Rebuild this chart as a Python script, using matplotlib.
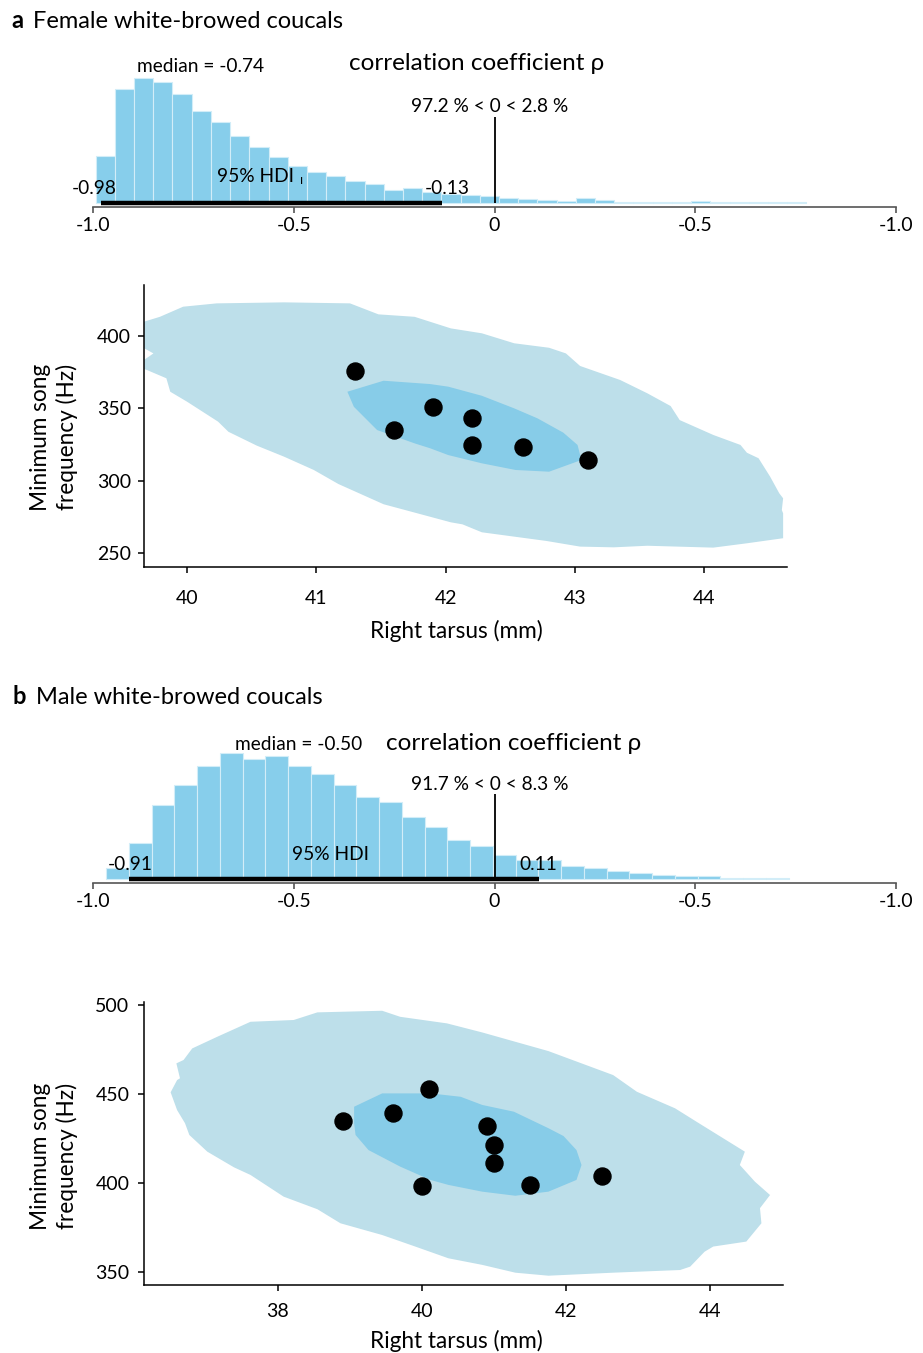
import numpy as np
import matplotlib
matplotlib.use("Agg")
import matplotlib.pyplot as plt

plt.rcParams['font.family'] = ['Lato', 'DejaVu Sans']

W, H = 923, 1353

# ---- posterior of rho, females (bin heights)
hist_a_start = -0.9934
hist_a_width = 0.04784
hist_a_heights = [47, 114, 125, 121, 109, 91.5, 81, 66.5, 56, 46, 37, 31, 27,
                  22, 18.5, 13, 15, 11, 9, 8, 7, 5, 3.8, 2.8, 1.8, 4.2, 2.2,
                  0.8, 0.8, 0.5, 0.5, 1.2, 0.5, 0.3, 0.3, 0.3, 0.2]
hdi_a = [-0.98, -0.13]
median_a = -0.74
pct_a = [97.2, 2.8]

# ---- posterior of rho, males
hist_b_start = -0.9674
hist_b_width = 0.05666
hist_b_heights = [10.2, 35.2, 73.5, 93.5, 112.2, 125.5, 120, 122.5, 112.2,
                  104.8, 93.5, 81.2, 76.5, 61.2, 51.5, 38.8, 32.2, 23.8, 18.5,
                  18.5, 12.5, 10.5, 7.5, 5.2, 3.8, 2.2, 2.2, 0.8, 0.5, 0.3]
hdi_b = [-0.91, 0.11]
median_b = -0.50
pct_b = [91.7, 8.3]

hist_ticks = [-1.0, -0.5, 0, 0.5, 1.0]
hist_ticklabels = ['-1.0', '-0.5', '0', '-0.5', '-1.0']

# ---- females: tarsus vs min song frequency
fem_tarsus = [41.3, 41.9, 41.6, 42.2, 42.2, 42.6, 43.1]
fem_freq = [376, 351, 335, 343, 325, 323, 314]

fem_outer_x = [39.60, 39.79, 39.97, 40.23, 40.75, 41.26, 41.48, 41.76, 42.04,
               42.28, 42.53, 42.80, 42.93, 43.04, 43.35, 43.56, 43.74, 43.81,
               44.07, 44.28, 44.33, 44.42, 44.51, 44.58, 44.61, 44.60, 44.61,
               44.61, 44.33, 44.07, 43.56, 43.30, 43.04, 42.78, 42.28, 42.13,
               42.04, 41.52, 41.17, 40.98, 40.75, 40.54, 40.32, 40.24, 40.00,
               39.87, 39.84, 39.69, 39.60, 39.74, 39.60]
fem_outer_y = [408.1, 413.3, 420.3, 422.6, 423.3, 422.6, 415.0, 413.3, 405.3,
               401.9, 395.0, 391.9, 388.0, 379.3, 369.6, 360.4, 351.6, 341.9,
               331.6, 324.7, 319.3, 315.5, 302.7, 291.3, 287.8, 279.7, 277.4,
               260.2, 256.7, 253.7, 255.0, 253.9, 254.4, 258.3, 264.3, 269.8,
               271.2, 283.7, 297.7, 307.4, 316.6, 324.2, 333.8, 340.8, 354.6,
               361.5, 370.8, 376.5, 379.3, 388.0, 394.9]
fem_inner_x = [41.24, 41.52, 41.88, 42.02, 42.28, 42.53, 42.71, 42.91, 43.02,
               43.05, 42.80, 42.54, 42.28, 42.02, 41.88, 41.76, 41.47, 41.29]
fem_inner_y = [361.5, 369.1, 366.8, 365.0, 358.7, 350.0, 343.1, 333.2, 324.7,
               314.3, 306.2, 307.4, 312.0, 317.7, 322.4, 325.8, 335.0, 351.1]

# ---- males
male_tarsus = [38.9, 39.6, 40.1, 40.0, 40.9, 41.0, 41.0, 41.5, 42.5]
male_freq = [435, 439, 453, 398, 432, 421, 411, 399, 404]

male_outer_x = [36.59, 36.69, 36.81, 37.16, 37.62, 38.22, 38.55, 39.45, 39.70,
                40.35, 40.84, 41.76, 42.66, 42.99, 43.52, 43.84, 44.49, 44.42,
                44.63, 44.84, 44.70, 44.72, 44.51, 44.05, 43.93, 43.73, 43.59,
                42.66, 41.76, 41.30, 40.84, 40.37, 39.91, 39.45, 38.87, 38.55,
                38.08, 37.62, 37.39, 37.02, 36.77, 36.71, 36.60, 36.51, 36.60,
                36.64]
male_outer_y = [467.2, 469.1, 475.6, 482.2, 490.6, 491.6, 495.9, 496.8, 493.4,
                489.7, 484.6, 474.1, 460.6, 451.2, 441.9, 433.8, 417.5, 410.0,
                400.6, 393.1, 385.7, 377.2, 366.9, 364.1, 361.2, 352.8, 350.9,
                349.4, 347.7, 349.4, 353.8, 357.5, 364.1, 370.6, 377.2, 385.1,
                392.2, 404.4, 408.7, 417.5, 426.9, 433.5, 440.9, 450.9, 457.8,
                458.8]
male_inner_x = [39.06, 39.45, 40.12, 40.54, 40.84, 41.28, 41.76, 41.97, 42.15,
                42.22, 42.15, 41.76, 41.30, 40.84, 40.37, 40.12, 39.70, 39.26,
                39.08, 39.06]
male_inner_y = [442.8, 450.3, 450.3, 448.4, 443.8, 440.0, 430.7, 426.3, 418.4,
                410.0, 401.6, 395.0, 392.7, 395.0, 398.8, 401.6, 409.1, 418.4,
                426.9, 433.5]

BAR = '#87ceeb'
OUTER = '#bddfea'
INNER = '#87cce8'

FS_TITLE = 17
FS_CORR = 17.5
FS_NOTE = 13.8
FS_TICK = 14
FS_LABEL = 16.3


def rect(l, t, r, b):
    return [l / W, 1 - b / H, (r - l) / W, (b - t) / H]


def fpos(x, y):
    return x / W, 1 - y / H


fig = plt.figure(figsize=(W / 100, H / 100), dpi=100)


def draw_hist(ax, start, width, heights, hdi, median, pct, txt):
    edges = start + width * np.arange(len(heights))
    ax.bar(edges, heights, width=width, align='edge', color=BAR,
           edgecolor='#d2edf8', linewidth=0.8)
    ax.plot(hdi, [-0.3, -0.3], color='black', lw=3.2, solid_capstyle='butt')
    ax.vlines(0, 0, txt['vtop'], color='black', lw=1.3)
    ax.text(txt['med'][0], txt['med'][1], 'median = %.2f' % median,
            ha='center', va='center', fontsize=FS_NOTE)
    ax.text(txt['corr'][0], txt['corr'][1], 'correlation coefficient ρ',
            ha='center', va='center', fontsize=FS_CORR)
    ax.text(txt['pct'][0], txt['pct'][1],
            '%.1f %% < 0 < %.1f %%' % (pct[0], pct[1]),
            ha='center', va='center', fontsize=FS_NOTE)
    ax.text(txt['hdi'][0], txt['hdi'][1], '95% HDI',
            ha='center', va='center', fontsize=FS_NOTE)
    ax.text(txt['lo'][0], txt['lo'][1], '%.2f' % hdi[0],
            ha='center', va='center', fontsize=FS_NOTE)
    ax.text(txt['hi'][0], txt['hi'][1], '%.2f' % hdi[1],
            ha='center', va='center', fontsize=FS_NOTE)
    ax.set_xlim(-1.0, 1.0)
    ax.set_ylim(-4.5, 152.5)
    for s in ['top', 'right', 'left']:
        ax.spines[s].set_visible(False)
    ax.spines['bottom'].set_color('#555555')
    ax.spines['bottom'].set_linewidth(1.2)
    ax.set_yticks([])
    ax.set_xticks(hist_ticks)
    ax.set_xticklabels(hist_ticklabels)
    ax.tick_params(axis='x', length=4.5, width=1.2, color='#555555',
                   labelsize=FS_TICK, pad=3)


def draw_scatter(ax, outer_x, outer_y, inner_x, inner_y, xs, ys):
    ax.fill(outer_x, outer_y, color=OUTER, lw=0)
    ax.fill(inner_x, inner_y, color=INNER, lw=0)
    ax.scatter(xs, ys, s=150, color='black', zorder=3)
    for s in ['top', 'right']:
        ax.spines[s].set_visible(False)
    for s in ['left', 'bottom']:
        ax.spines[s].set_linewidth(1.1)
    ax.tick_params(length=4.5, width=1.1, labelsize=FS_TICK)


# ---- panel a
fig.text(*fpos(11, 21), 'a', fontsize=FS_TITLE, weight='bold', va='center')
fig.text(*fpos(33, 21), 'Female white-browed coucals', fontsize=FS_TITLE, va='center')

ax1 = fig.add_axes(rect(93, 50, 896, 207))
draw_hist(ax1, hist_a_start, hist_a_width, hist_a_heights, hdi_a, median_a,
          pct_a, {'vtop': 85.5, 'med': (-0.732, 136.5), 'corr': (-0.045, 138.5),
                  'pct': (-0.012, 95.5), 'hdi': (-0.595, 25.5),
                  'lo': (-0.9975, 14.5), 'hi': (-0.118, 14.5)})
ax1.text(-0.48, 22.5, 'ı', ha='center', va='center', fontsize=9)

ax2 = fig.add_axes(rect(144, 285, 787, 567))
draw_scatter(ax2, fem_outer_x, fem_outer_y, fem_inner_x, fem_inner_y,
             fem_tarsus, fem_freq)
ax2.set_xlim(39.667, 44.64)
ax2.set_ylim(240.3, 435.3)
ax2.set_xticks([40, 41, 42, 43, 44])
ax2.set_yticks([250, 300, 350, 400])
ax2.tick_params(axis='x', pad=12)
ax2.tick_params(axis='y', pad=5)
fig.text(*fpos(456, 631), 'Right tarsus (mm)', fontsize=FS_LABEL, ha='center', va='center')
fig.text(*fpos(54, 437), 'Minimum song\nfrequency (Hz)', fontsize=FS_LABEL,
         ha='center', va='center', rotation=90, multialignment='center',
         linespacing=1.25)

# ---- panel b
fig.text(*fpos(12, 697), 'b', fontsize=FS_TITLE, weight='bold', va='center')
fig.text(*fpos(36, 697), 'Male white-browed coucals', fontsize=FS_TITLE, va='center')

ax3 = fig.add_axes(rect(93, 726, 896, 883))
draw_hist(ax3, hist_b_start, hist_b_width, hist_b_heights, hdi_b, median_b,
          pct_b, {'vtop': 84.5, 'med': (-0.488, 134.5), 'corr': (0.047, 135.5),
                  'pct': (-0.011, 94.5), 'hdi': (-0.408, 24.5),
                  'lo': (-0.907, 14.5), 'hi': (0.108, 14.5)})

ax4 = fig.add_axes(rect(144, 1001.7, 783, 1285.3))
draw_scatter(ax4, male_outer_x, male_outer_y, male_inner_x, male_inner_y,
             male_tarsus, male_freq)
ax4.set_xlim(36.14, 45.02)
ax4.set_ylim(342.3, 501.9)
ax4.set_xticks([38, 40, 42, 44])
ax4.set_yticks([350, 400, 450, 500])
ax4.tick_params(axis='x', pad=8)
ax4.tick_params(axis='y', pad=6)
fig.text(*fpos(456, 1341), 'Right tarsus (mm)', fontsize=FS_LABEL, ha='center', va='center')
fig.text(*fpos(54, 1156), 'Minimum song\nfrequency (Hz)', fontsize=FS_LABEL,
         ha='center', va='center', rotation=90, multialignment='center',
         linespacing=1.25)

fig.savefig('out.png', dpi=100)
